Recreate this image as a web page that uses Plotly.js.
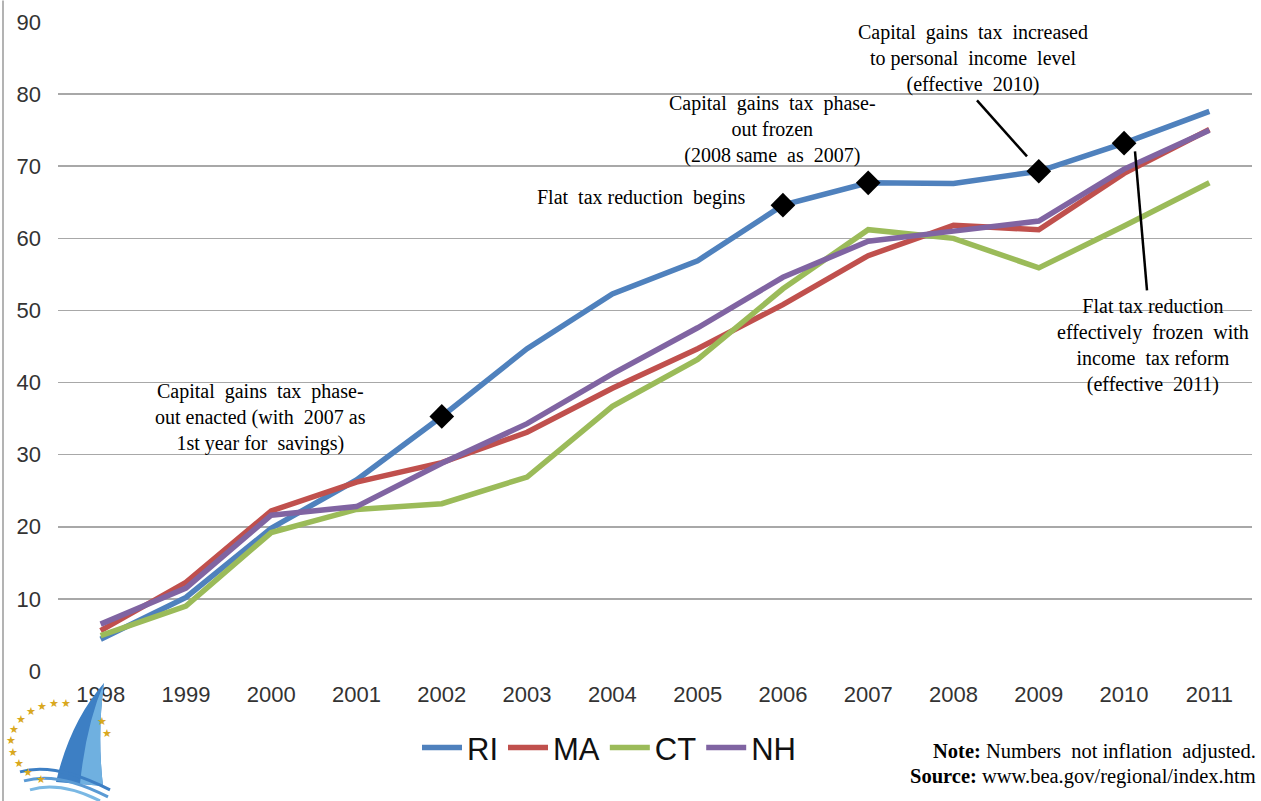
<!DOCTYPE html>
<html>
<head>
<meta charset="utf-8">
<script src="https://cdn.plot.ly/plotly-3.0.1.min.js"></script>
<style>html,body{margin:0;padding:0;background:#fff;}#chart{width:1261px;height:801px;}</style>
</head>
<body>
<div id="chart"></div>
<script>
// ---- data ----
const years = ['1998','1999','2000','2001','2002','2003','2004','2005','2006','2007','2008','2009','2010','2011'];
const RI = [4.4, 10.2, 19.8, 26.5, 35.3, 44.7, 52.3, 56.9, 64.6, 67.7, 67.6, 69.3, 73.2, 77.6];
const MA = [5.6, 12.3, 22.2, 26.2, 28.9, 33.1, 39.2, 44.7, 50.8, 57.6, 61.8, 61.2, 69.0, 75.1];
const CT = [4.9, 9.0, 19.2, 22.4, 23.2, 26.9, 36.7, 43.2, 53.0, 61.2, 60.0, 55.9, 61.7, 67.7];
const NH = [6.5, 11.5, 21.6, 22.8, 28.8, 34.3, 41.2, 47.6, 54.6, 59.6, 61.0, 62.4, 69.6, 75.0];
const seriesNames = ['RI','MA','CT','NH'];
const markedYears = ['2002','2006','2007','2009','2010'];
const yTicks = [0,10,20,30,40,50,60,70,80,90];

// ---- layout helpers (pixel -> paper) ----
const W = 1261, H = 801, L = 58, R = 1252, T = 21.5, B = 671;
const px = x => (x - L) / (R - L);
const py = y => (B - y) / (B - T);

const colors = ['#4F81BD','#C0504D','#9BBB59','#8064A2'];
const allSeries = [RI, MA, CT, NH];

const traces = allSeries.map((s, i) => ({
  type: 'scatter', mode: 'lines', name: seriesNames[i],
  x: years, y: s,
  line: {color: colors[i], width: 5.5},
  hoverinfo: 'x+y+name'
}));
traces.push({
  type: 'scatter', mode: 'markers', showlegend: false,
  x: markedYears, y: markedYears.map(yr => RI[years.indexOf(yr)]),
  marker: {symbol: 'diamond', size: 19, color: '#000'}
});

const serif = 'Liberation Serif, Times New Roman, serif';
const annFont = {family: serif, size: 20, color: '#000'};
const ann = (x, y, text, extra) => Object.assign({
  xref: 'paper', yref: 'paper', x: px(x), y: py(y), text: text,
  showarrow: false, font: annFont, align: 'center', xanchor: 'center', yanchor: 'middle'
}, extra || {});

const annotations = [
  ann(260, 417, 'Capital  gains  tax  phase-<br>out enacted (with  2007 as<br>1st year for  savings)'),
  ann(641, 197, 'Flat  tax reduction  begins'),
  ann(773, 129, 'Capital  gains  tax  phase-<br>out frozen<br>(2008 same  as  2007)'),
  ann(973, 58, 'Capital  gains  tax  increased<br>to personal  income  level<br>(effective  2010)'),
  ann(1153, 345, 'Flat tax reduction<br>effectively  frozen  with<br>income  tax reform<br>(effective  2011)'),
  ann(1258, 752, '<b>Note:</b> Numbers  not inflation  adjusted.', {xanchor: 'right', font: {family: serif, size: 20.5, color: '#000'}}),
  ann(1258, 777, '<b>Source:</b> www.bea.gov/regional/index.htm', {xanchor: 'right', font: {family: serif, size: 20.5, color: '#000'}})
];

// decorative logo stars
const starPos = [[66,703],[54,703],[42,706],[31,711],[21,719],[14,729],[11,740],[13,752],[19,763],[28,772],[41,779],[102,721],[107,733]];
starPos.forEach(p => annotations.push(ann(p[0], p[1], '★', {font: {size: 11, color: '#D9A81E'}})));

const P = (x, y) => px(x).toFixed(5) + ',' + py(y).toFixed(5);
const shapes = [
  // arrow lines
  {type: 'line', xref: 'paper', yref: 'paper', x0: px(977), y0: py(100), x1: px(1027), y1: py(156), line: {color: '#000', width: 2.5}},
  {type: 'line', xref: 'paper', yref: 'paper', x0: px(1135), y0: py(151), x1: px(1147), y1: py(290), line: {color: '#000', width: 2.5}},
  // left border of picture
  {type: 'line', xref: 'paper', yref: 'paper', x0: px(3), y0: py(0), x1: px(3), y1: py(801), line: {color: '#9a9a9a', width: 1.5}},
  // logo sail
  {type: 'path', xref: 'paper', yref: 'paper', path: 'M' + P(104,683) + ' Q' + P(70,722) + ' ' + P(56,782) + ' L' + P(103,786) + ' Q' + P(97,735) + ' ' + P(104,683) + ' Z', fillcolor: '#3d7fc4', line: {width: 0}},
  {type: 'path', xref: 'paper', yref: 'paper', path: 'M' + P(104,683) + ' Q' + P(86,725) + ' ' + P(80,784) + ' L' + P(103,786) + ' Q' + P(97,735) + ' ' + P(104,683) + ' Z', fillcolor: '#6fb0e0', line: {width: 0}},
  // waves
  {type: 'path', xref: 'paper', yref: 'paper', path: 'M' + P(20,772) + ' Q' + P(55,762) + ' ' + P(110,790), line: {color: '#3d7fc4', width: 3}},
  {type: 'path', xref: 'paper', yref: 'paper', path: 'M' + P(24,781) + ' Q' + P(58,771) + ' ' + P(108,797), line: {color: '#5a9ad4', width: 3}},
  {type: 'path', xref: 'paper', yref: 'paper', path: 'M' + P(30,790) + ' Q' + P(60,781) + ' ' + P(100,801), line: {color: '#7ab8e4', width: 3}}
];

const layout = {
  width: W, height: H,
  margin: {l: L, r: W - R, t: T, b: H - B, pad: 0},
  paper_bgcolor: '#fff', plot_bgcolor: '#fff',
  font: {family: 'Liberation Sans, Arial, sans-serif', color: '#333'},
  showlegend: true,
  legend: {orientation: 'h', x: px(609), xanchor: 'center', y: py(748), yanchor: 'middle',
           font: {size: 31, color: '#111', family: 'Liberation Sans, Arial, sans-serif'}, itemwidth: 40, bgcolor: 'rgba(0,0,0,0)'},
  xaxis: {type: 'category', range: [-0.5, 13.5], showgrid: false, zeroline: false, showline: false,
          ticks: '', tickfont: {size: 22, color: '#333'}, ticklabelstandoff: 8, fixedrange: true},
  yaxis: {range: [0, 90], tickvals: yTicks, ticktext: yTicks.map(String), showgrid: true, gridcolor: '#a8a8a8', gridwidth: 1.6,
          zeroline: false, showline: false, ticks: '', tickfont: {size: 22, color: '#333'}, ticklabelstandoff: 16, fixedrange: true},
  annotations: annotations,
  shapes: shapes
};

Plotly.newPlot('chart', traces, layout, {displayModeBar: false, staticPlot: true});
</script>
</body>
</html>
